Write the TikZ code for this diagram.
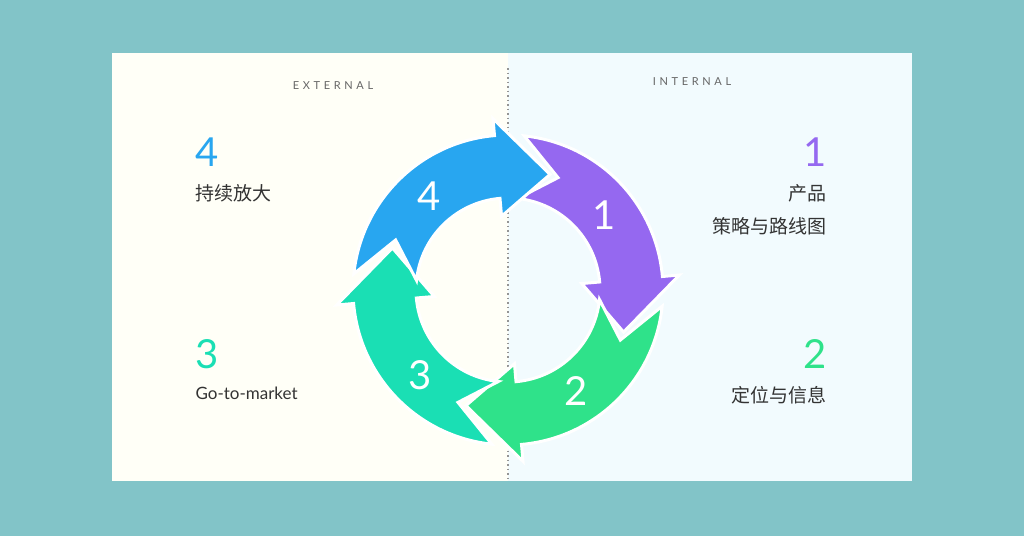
\documentclass[tikz,border=0pt]{standalone}
\usepackage{fontspec}
\setmainfont{Lato}
\newfontfamily\cjk{Noto Sans CJK SC}
\definecolor{bgteal}{HTML}{82C4C8}
\definecolor{cpurple}{HTML}{9568F0}
\definecolor{cgreen}{HTML}{2FE28A}
\definecolor{cteal}{HTML}{1ADFB4}
\definecolor{cblue}{HTML}{28A6F0}
\definecolor{ctext}{HTML}{333333}
\definecolor{cgray}{HTML}{666666}
% one ring segment: tip angle, colour
\newcommand\ringarrow[2]{%
  \fill[#2,draw=white,line width=3pt,line join=miter]
    (#1+104:155pt) arc[start angle=#1+104,end angle=#1+25,radius=155pt]
    -- (#1+25:172pt) -- (#1:123pt) -- (#1+25:74pt) -- (#1+25:92pt)
    arc[start angle=#1+25,end angle=#1+104,radius=92pt]
    -- (#1+86:123pt) -- cycle;}
\tikzset{
  bignum/.style={font=\fontsize{40}{40}\selectfont},
  cntext/.style={font=\cjk\fontsize{19}{22}\selectfont,text=ctext},
  ringnum/.style={text=white,font=\fontsize{40}{40}\selectfont},
  side/.style={text=cgray,font=\fontsize{11}{11}\selectfont}
}
\begin{document}
\begin{tikzpicture}[x=1pt,y=-1pt]
\useasboundingbox (0,0) rectangle (1024,536);
\fill[bgteal] (0,0) rectangle (1024,536);
\fill[white!97!yellow] (112,53) rectangle (508,481);
\fill[white!95!cyan] (508,53) rectangle (912,481);
\draw[cgray!70,line width=1.5pt,dash pattern=on 1.5pt off 3pt] (508,68) -- (508,481);
\node[side] (ext) at (333,86) {E\,\,X\,\,T\,\,E\,\,R\,\,N\,\,A\,\,L};
\node[side] (int) at (692,82) {I\,\,N\,\,T\,\,E\,\,R\,\,N\,\,A\,\,L};
% ring
\begin{scope}[shift={(508,290)}]
  \ringarrow{-20}{cpurple}
  \ringarrow{-110}{cgreen}
  \ringarrow{160}{cteal}
  \ringarrow{70}{cblue}
  \node[ringnum] (n1) at (38:122pt) {1};
  \node[ringnum] (n2) at (-56:122pt) {2};
  \node[ringnum] (n3) at (-136:122pt) {3};
  \node[ringnum] (n4) at (130:122pt) {4};
\end{scope}
% left texts
\node[bignum,text=cblue,anchor=west] (l4) at (192,152) {4};
\node[cntext,anchor=west] (t4) at (192,193) {持续放大};
\node[bignum,text=cteal,anchor=west] (l3) at (192,354) {3};
\node[anchor=west,text=ctext,font=\fontsize{17}{17}\selectfont] (t3) at (192,393) {Go-to-market};
% right texts
\node[bignum,text=cpurple,anchor=east] (r1) at (830,152) {1};
\node[cntext,anchor=east] (t1a) at (830,193) {产品};
\node[cntext,anchor=east] (t1b) at (830,226) {策略与路线图};
\node[bignum,text=cgreen,anchor=east] (r2) at (830,354) {2};
\node[cntext,anchor=east] (t2) at (830,395) {定位与信息};
\end{tikzpicture}
\end{document}
